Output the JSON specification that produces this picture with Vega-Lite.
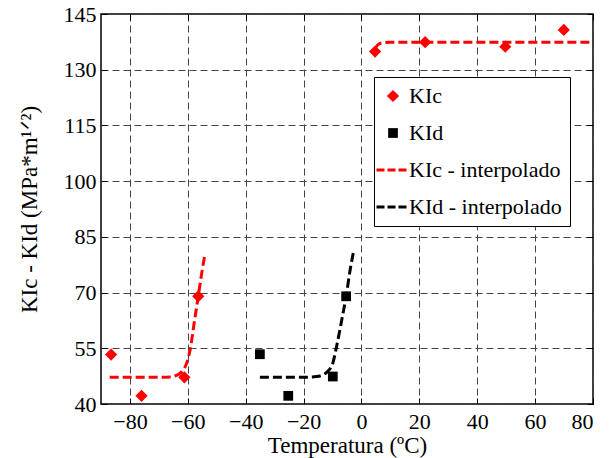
{
  "$schema": "https://vega.github.io/schema/vega-lite/v6.json",
  "width": 492,
  "height": 390,
  "autosize": {"type": "none"},
  "padding": {"left": 101, "top": 14, "right": 22, "bottom": 54},
  "background": "white",
  "config": {
    "view": {"stroke": "black", "strokeWidth": 1.5},
    "font": "Liberation Serif, Times New Roman, serif",
    "axis": {
      "labelFont": "Liberation Serif, Times New Roman, serif",
      "titleFont": "Liberation Serif, Times New Roman, serif",
      "labelFontSize": 22,
      "titleFontSize": 23,
      "titleFontWeight": "normal",
      "labelColor": "black",
      "titleColor": "black",
      "domain": false,
      "tickColor": "black",
      "tickSize": -6,
      "tickWidth": 1,
      "gridColor": "#444",
      "gridDash": [7, 4],
      "gridOpacity": 1,
      "gridWidth": 1
    },
    "legend": {
      "labelFont": "Liberation Serif, Times New Roman, serif",
      "labelFontSize": 22,
      "labelColor": "black"
    }
  },
  "resolve": {"axis": {"x": "independent", "y": "independent"}},
  "datasets": {
    "pts": [
      {"T": -86.5, "K": 53.3, "series": "KIc"},
      {"T": -76.0, "K": 42.2, "series": "KIc"},
      {"T": -61.2, "K": 47.2, "series": "KIc"},
      {"T": -56.4, "K": 69.0, "series": "KIc"},
      {"T": 4.7, "K": 134.9, "series": "KIc"},
      {"T": 22.0, "K": 137.4, "series": "KIc"},
      {"T": 49.7, "K": 136.2, "series": "KIc"},
      {"T": 69.9, "K": 140.7, "series": "KIc"},
      {"T": -35.1, "K": 53.4, "series": "KId"},
      {"T": -25.3, "K": 42.2, "series": "KId"},
      {"T": -9.9, "K": 47.4, "series": "KId"},
      {"T": -5.3, "K": 69.0, "series": "KId"}
    ],
    "curves": [
      {"T": -87.0, "K": 47.2, "series": "KIc - interpolado", "seg": "a"},
      {"T": -70.0, "K": 47.2, "series": "KIc - interpolado", "seg": "a"},
      {"T": -66.0, "K": 47.3, "series": "KIc - interpolado", "seg": "a"},
      {"T": -64.0, "K": 47.7, "series": "KIc - interpolado", "seg": "a"},
      {"T": -62.1, "K": 48.7, "series": "KIc - interpolado", "seg": "a"},
      {"T": -60.4, "K": 51.0, "series": "KIc - interpolado", "seg": "a"},
      {"T": -59.2, "K": 54.6, "series": "KIc - interpolado", "seg": "a"},
      {"T": -57.8, "K": 61.8, "series": "KIc - interpolado", "seg": "a"},
      {"T": -56.4, "K": 69.0, "series": "KIc - interpolado", "seg": "a"},
      {"T": -55.0, "K": 76.2, "series": "KIc - interpolado", "seg": "a"},
      {"T": -54.1, "K": 80.2, "series": "KIc - interpolado", "seg": "a"},
      {"T": 4.7, "K": 135.6, "series": "KIc - interpolado", "seg": "b"},
      {"T": 5.5, "K": 136.6, "series": "KIc - interpolado", "seg": "b"},
      {"T": 7.0, "K": 137.2, "series": "KIc - interpolado", "seg": "b"},
      {"T": 10.0, "K": 137.4, "series": "KIc - interpolado", "seg": "b"},
      {"T": 80.0, "K": 137.4, "series": "KIc - interpolado", "seg": "b"},
      {"T": -35.1, "K": 47.2, "series": "KId - interpolado", "seg": "c"},
      {"T": -20.0, "K": 47.2, "series": "KId - interpolado", "seg": "c"},
      {"T": -15.5, "K": 47.4, "series": "KId - interpolado", "seg": "c"},
      {"T": -13.5, "K": 47.8, "series": "KId - interpolado", "seg": "c"},
      {"T": -11.8, "K": 48.7, "series": "KId - interpolado", "seg": "c"},
      {"T": -9.9, "K": 51.0, "series": "KId - interpolado", "seg": "c"},
      {"T": -8.6, "K": 55.5, "series": "KId - interpolado", "seg": "c"},
      {"T": -6.8, "K": 62.7, "series": "KId - interpolado", "seg": "c"},
      {"T": -5.3, "K": 69.0, "series": "KId - interpolado", "seg": "c"},
      {"T": -3.9, "K": 76.2, "series": "KId - interpolado", "seg": "c"},
      {"T": -2.8, "K": 80.8, "series": "KId - interpolado", "seg": "c"}
    ]
  },
  "layer": [
    {
      "data": {"name": "pts"},
      "mark": {"type": "point", "filled": true, "opacity": 1, "strokeWidth": 0},
      "encoding": {
        "x": {
          "field": "T", "type": "quantitative",
          "scale": {"domain": [-90, 80], "nice": false, "zero": false},
          "axis": {"title": "Temperatura (ºC)", "titlePadding": 2, "labelPadding": 13, "values": [-80, -60, -40, -20, 0, 20, 40, 60, 80]}
        },
        "y": {
          "field": "K", "type": "quantitative",
          "scale": {"domain": [40, 145], "nice": false, "zero": false},
          "axis": {"title": "KIc - KId  (MPa*m¹ᐟ²)", "titlePadding": 22, "labelPadding": 11, "values": [40, 55, 70, 85, 100, 115, 130, 145]}
        },
        "color": {
          "field": "series", "type": "nominal",
          "scale": {
            "domain": ["KIc", "KId", "KIc - interpolado", "KId - interpolado"],
            "range": ["#ff0000", "#000000", "#ff0000", "#000000"]
          },
          "legend": {
            "title": null,
            "orient": "none",
            "legendX": 273,
            "legendY": 63,
            "strokeColor": "black",
            "fillColor": "white",
            "padding": 8,
            "symbolSize": 1089,
            "symbolDash": [8, 3],
            "rowPadding": 15,
            "labelOffset": 5,
            "encoding": {
              "symbols": {
                "shape": {"value": {"expr": "test(/interpolado/, '' + datum.value) ? 'stroke' : (('' + datum.value) == 'KIc' ? 'diamond' : 'square')"}},
                "size": {"value": {"expr": "test(/interpolado/, '' + datum.value) ? 1089 : (('' + datum.value) == 'KIc' ? 150 : 95)"}},
                "fill": {"value": {"expr": "test(/KIc/, '' + datum.value) ? '#ff0000' : '#000000'"}},
                "stroke": {"value": {"expr": "test(/KIc/, '' + datum.value) ? '#ff0000' : '#000000'"}},
                "strokeWidth": {"value": {"expr": "test(/interpolado/, '' + datum.value) ? 3 : 0"}},
                "opacity": {"value": 1}
              }
            }
          }
        },
        "shape": {
          "field": "series", "type": "nominal",
          "scale": {"domain": ["KIc", "KId"], "range": ["diamond", "square"]},
          "legend": null
        },
        "size": {
          "field": "series", "type": "nominal",
          "scale": {"domain": ["KIc", "KId"], "range": [150, 95]},
          "legend": null
        }
      }
    },
    {
      "data": {"name": "curves"},
      "mark": {"type": "line", "strokeWidth": 3, "strokeDash": [9, 4], "interpolate": "monotone"},
      "encoding": {
        "x": {
          "field": "T", "type": "quantitative",
          "axis": {"orient": "top", "labels": false, "grid": false, "title": null, "values": [-80, -60, -40, -20, 0, 20, 40, 60, 80]}
        },
        "y": {
          "field": "K", "type": "quantitative",
          "axis": {"orient": "right", "labels": false, "grid": false, "title": null, "values": [40, 55, 70, 85, 100, 115, 130, 145]}
        },
        "color": {"field": "series", "type": "nominal"},
        "detail": {"field": "seg"}
      }
    }
  ]
}
